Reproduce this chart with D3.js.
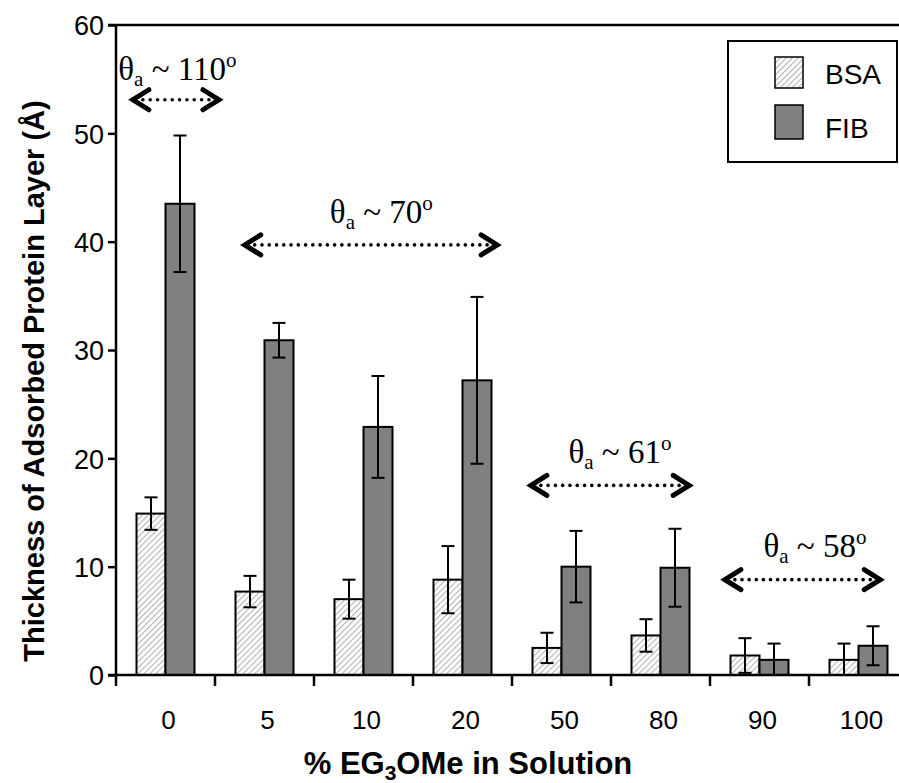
<!DOCTYPE html>
<html>
<head>
<meta charset="utf-8">
<script src="https://cdn.jsdelivr.net/npm/d3@7/dist/d3.min.js"></script>
<style>
  html, body { margin: 0; padding: 0; background: #fff; }
  svg { display: block; }
</style>
</head>
<body>
<svg id="chart" width="899" height="783"></svg>
<script>
// ---- data ----
const categories = ["0", "5", "10", "20", "50", "80", "90", "100"];
const seriesNames = ["BSA", "FIB"];
const bsaValues = [14.9, 7.7, 7.0, 8.8, 2.5, 3.65, 1.8, 1.4];
const bsaErrors = [1.5, 1.45, 1.8, 3.1, 1.4, 1.5, 1.6, 1.5];
const fibValues = [43.5, 30.9, 22.9, 27.2, 10.0, 9.9, 1.4, 2.7];
const fibErrors = [6.3, 1.6, 4.7, 7.7, 3.3, 3.6, 1.5, 1.8];
const yTicks = [0, 10, 20, 30, 40, 50, 60];
// annotations: band-unit x range, arrow y value, label number, label position
const annoNumbers = ["110", "70", "61", "58"];
const annoXStart = [0.14, 1.27, 4.16, 6.12];
const annoXEnd = [1.07, 3.88, 5.82, 7.75];
const annoArrowY = [53.1, 39.7, 17.5, 8.8];
const annoTextX = [0.62, 2.68, 5.09, 7.06];
const annoTextY = [54.9, 41.7, 19.6, 10.9];

// ---- layout ----
const svg = d3.select("#chart");
const x0 = 116, yBottom = 675, yTop = 25, step = 99;
const x = d3.scaleBand().domain(categories).range([x0, x0 + step * categories.length]).padding(0);
const xSub = d3.scaleBand().domain(seriesNames).range([20.5, 78.5]).padding(0);
const y = d3.scaleLinear().domain([0, 60]).range([yBottom, yTop]);
const xUnit = d3.scaleLinear().domain([0, categories.length]).range([x0, x0 + step * categories.length]);

const defs = svg.append("defs");
const pat = defs.append("pattern")
  .attr("id", "hatch").attr("patternUnits", "userSpaceOnUse")
  .attr("width", 4.2).attr("height", 4.2)
  .attr("patternTransform", "rotate(45)");
pat.append("rect").attr("width", 4.2).attr("height", 4.2).attr("fill", "#fff");
pat.append("line").attr("x1", 0).attr("y1", 0).attr("x2", 0).attr("y2", 4.2)
  .attr("stroke", "#b4b4b4").attr("stroke-width", 2.2);

const fills = { BSA: "url(#hatch)", FIB: "#808080" };

// frame top line
svg.append("line").attr("x1", 108).attr("x2", 899).attr("y1", yTop).attr("y2", yTop)
  .attr("stroke", "#000").attr("stroke-width", 2.5);

// bars
const rows = categories.map((c, i) => ({
  cat: c,
  items: [
    { s: "BSA", v: bsaValues[i], e: bsaErrors[i] },
    { s: "FIB", v: fibValues[i], e: fibErrors[i] }
  ]
}));

const g = svg.append("g").selectAll("g").data(rows).join("g")
  .attr("transform", d => `translate(${x(d.cat)},0)`);

g.selectAll("rect").data(d => d.items).join("rect")
  .attr("x", d => xSub(d.s))
  .attr("width", xSub.bandwidth())
  .attr("y", d => y(d.v))
  .attr("height", d => y(0) - y(d.v))
  .attr("fill", d => fills[d.s])
  .attr("stroke", "#000").attr("stroke-width", 2);

// error bars
const eb = g.selectAll("g.err").data(d => d.items).join("g").attr("class", "err");
const cx = d => xSub(d.s) + xSub.bandwidth() / 2;
eb.append("line")
  .attr("x1", cx).attr("x2", cx)
  .attr("y1", d => y(d.v + d.e)).attr("y2", d => y(Math.max(0, d.v - d.e)))
  .attr("stroke", "#000").attr("stroke-width", 2);
eb.append("line")
  .attr("x1", d => cx(d) - 6.5).attr("x2", d => cx(d) + 6.5)
  .attr("y1", d => y(d.v + d.e)).attr("y2", d => y(d.v + d.e))
  .attr("stroke", "#000").attr("stroke-width", 2);
eb.filter(d => d.v - d.e > 0.15).append("line")
  .attr("x1", d => cx(d) - 6.5).attr("x2", d => cx(d) + 6.5)
  .attr("y1", d => y(d.v - d.e)).attr("y2", d => y(d.v - d.e))
  .attr("stroke", "#000").attr("stroke-width", 2);

// y axis
const yAxis = svg.append("g").attr("transform", `translate(${x0},0)`)
  .call(d3.axisLeft(y).tickValues(yTicks).tickSize(8).tickPadding(4).tickFormat(d3.format("d")));
yAxis.select(".domain").remove();
yAxis.selectAll(".tick line").attr("stroke", "#000").attr("stroke-width", 2.5);
yAxis.selectAll("text").attr("font-family", "Liberation Sans, Arial, sans-serif")
  .attr("font-size", 27).attr("fill", "#000").attr("dy", "0.36em");
svg.append("line").attr("x1", x0).attr("x2", x0).attr("y1", yTop - 1).attr("y2", yBottom + 1)
  .attr("stroke", "#000").attr("stroke-width", 2.5);

// x axis
svg.append("line").attr("x1", 108).attr("x2", 899).attr("y1", yBottom).attr("y2", yBottom)
  .attr("stroke", "#000").attr("stroke-width", 2.5);
const bounds = d3.range(categories.length + 1);
svg.append("g").selectAll("line").data(bounds).join("line")
  .attr("x1", d => xUnit(d)).attr("x2", d => xUnit(d))
  .attr("y1", yBottom).attr("y2", yBottom + 11)
  .attr("stroke", "#000").attr("stroke-width", 2.5);
svg.append("g").selectAll("text").data(categories).join("text")
  .attr("x", d => x(d) + step / 2 + 3)
  .attr("y", 729)
  .attr("text-anchor", "middle")
  .attr("font-family", "Liberation Sans, Arial, sans-serif")
  .attr("font-size", 26)
  .text(d => d);

// axis titles
svg.append("text")
  .attr("transform", `translate(44,381) rotate(-90)`)
  .attr("text-anchor", "middle")
  .attr("font-family", "Liberation Sans, Arial, sans-serif")
  .attr("font-weight", "bold").attr("font-size", 29)
  .text("Thickness of Adsorbed Protein Layer (Å)");

const xt = svg.append("text")
  .attr("x", 468).attr("y", 774)
  .attr("text-anchor", "middle")
  .attr("font-family", "Liberation Sans, Arial, sans-serif")
  .attr("font-weight", "bold").attr("font-size", 31);
xt.append("tspan").text("% EG");
xt.append("tspan").attr("font-size", 21).attr("dy", 6).text("3");
xt.append("tspan").attr("dy", -6).text("OMe in Solution");

// annotations
annoNumbers.forEach((num, i) => {
  const t = svg.append("text")
    .attr("x", xUnit(annoTextX[i])).attr("y", y(annoTextY[i]))
    .attr("text-anchor", "middle")
    .attr("font-family", "Liberation Serif, Times New Roman, serif")
    .attr("font-size", 33);
  t.append("tspan").text("θ");
  t.append("tspan").attr("font-size", 21).attr("dy", 6).text("a");
  t.append("tspan").attr("dy", -6).text(" ~ " + num);
  t.append("tspan").attr("font-size", 21).attr("dy", -13).text("o");

  const ay = y(annoArrowY[i]);
  const xa = xUnit(annoXStart[i]), xb = xUnit(annoXEnd[i]);
  // dotted line
  const dotsStart = xa + 13, dotsEnd = xb - 13;
  const n = Math.max(2, Math.round((dotsEnd - dotsStart) / 7.3));
  svg.append("g").selectAll("circle").data(d3.range(n + 1)).join("circle")
    .attr("cx", k => dotsStart + (dotsEnd - dotsStart) * k / n)
    .attr("cy", ay).attr("r", 1.8).attr("fill", "#000");
  // chevrons
  svg.append("path")
    .attr("d", `M${xa + 19},${ay - 10} L${xa + 3},${ay} L${xa + 19},${ay + 10}`)
    .attr("fill", "none").attr("stroke", "#000").attr("stroke-width", 5)
    .attr("stroke-linecap", "round").attr("stroke-linejoin", "miter");
  svg.append("path")
    .attr("d", `M${xb - 19},${ay - 10} L${xb - 3},${ay} L${xb - 19},${ay + 10}`)
    .attr("fill", "none").attr("stroke", "#000").attr("stroke-width", 5)
    .attr("stroke-linecap", "round").attr("stroke-linejoin", "miter");
});

// legend
const lg = svg.append("g");
lg.append("rect").attr("x", 728).attr("y", 41).attr("width", 169).attr("height", 121)
  .attr("fill", "#fff").attr("stroke", "#000").attr("stroke-width", 2);
seriesNames.forEach((s, i) => {
  const yy = [57, 105][i];
  lg.append("rect").attr("x", 775).attr("y", yy).attr("width", 28).attr("height", [31, 34][i])
    .attr("fill", fills[s]).attr("stroke", "#000").attr("stroke-width", 1.5);
  lg.append("text").attr("x", 825).attr("y", [84, 138][i])
    .attr("font-family", "Liberation Sans, Arial, sans-serif")
    .attr("font-size", 28).text(s);
});
</script>
</body>
</html>
